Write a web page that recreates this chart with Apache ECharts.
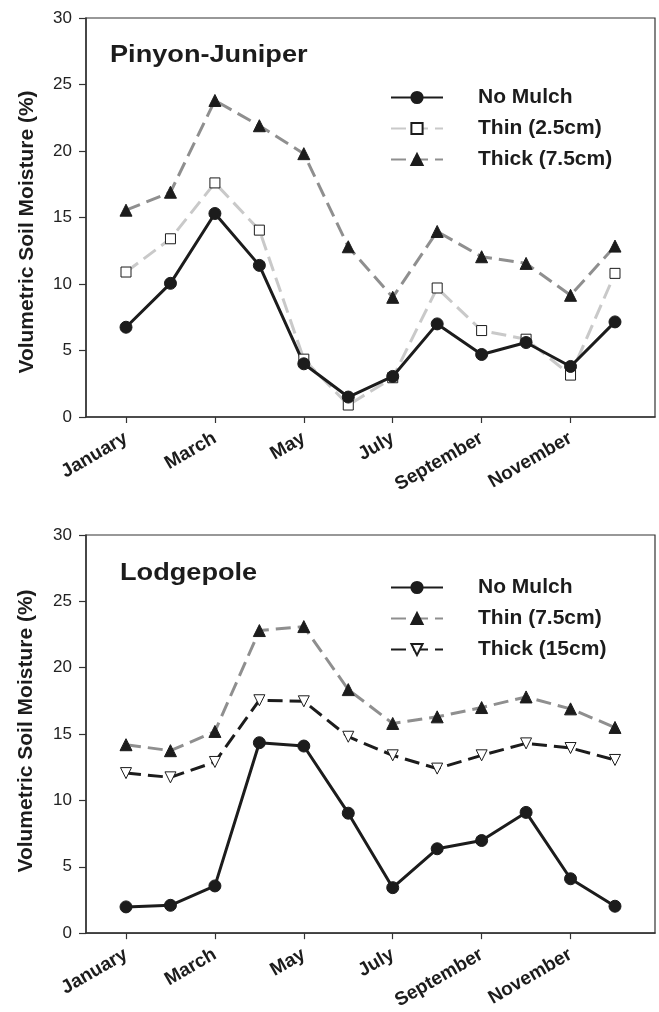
<!DOCTYPE html>
<html>
<head>
<meta charset="utf-8">
<script src="https://cdn.jsdelivr.net/npm/echarts@6/dist/echarts.min.js"></script>
<style>
html,body{margin:0;padding:0;background:#fff;}
#c{width:659px;height:1012px;}
</style>
</head>
<body>
<div id="c"></div>
<script>
// Month positions (0 = January)
const months = ['January','February','March','April','May','June','July','August','September','October','November','December'];
const tickMonths = [0, 2, 4, 6, 8, 10];
const yTicks = [0, 5, 10, 15, 20, 25, 30];
const panelTitles = ['Pinyon-Juniper', 'Lodgepole'];
const yName = 'Volumetric Soil Moisture (%)';

// Pinyon-Juniper
const pjNoMulch = [6.75, 10.05, 15.3, 11.4, 4.0, 1.5, 3.05, 7.0, 4.7, 5.6, 3.8, 7.15];
const pjThin    = [10.9, 13.4, 17.6, 14.05, 4.35, 0.9, 2.95, 9.7, 6.5, 5.85, 3.15, 10.8];
const pjThick   = [15.55, 16.9, 23.8, 21.9, 19.8, 12.8, 9.0, 13.95, 12.05, 11.55, 9.15, 12.85];

// Lodgepole
const lpNoMulch = [1.98, 2.1, 3.56, 14.35, 14.1, 9.04, 3.43, 6.36, 6.98, 9.1, 4.1, 2.03];
const lpThin    = [14.2, 13.75, 15.2, 22.8, 23.1, 18.35, 15.8, 16.3, 17.0, 17.8, 16.9, 15.5];
const lpThick   = [12.06, 11.74, 12.9, 17.55, 17.47, 14.8, 13.4, 12.4, 13.4, 14.3, 13.95, 13.05];

const BLACK = '#1c1c1c', LIGHT = '#c9c9c9', MID = '#8f8f8f';
const FONT = 'Liberation Sans, Arial, sans-serif';

function pairs(arr){ return arr.map((v,i)=>[i,v]); }

function xAxis(gi){
  return {
    type:'value', gridIndex:gi, min:-0.9, max:11.9,
    axisLine:{show:true, onZero:false, lineStyle:{color:'#333', width:1.5}},
    axisTick:{show:true, customValues:tickMonths, length:6, inside:false, lineStyle:{color:'#333', width:1.2}},
    axisLabel:{show:true, customValues:tickMonths, rotate:30, margin:20,
      formatter:v=>months[Math.round(v)], fontFamily:FONT, fontWeight:'bold', fontSize:19, color:'#1c1c1c'},
    splitLine:{show:false}
  };
}
function yAxis(gi){
  return {
    type:'value', gridIndex:gi, min:0, max:30, interval:5,
    axisLine:{show:true, onZero:false, lineStyle:{color:'#333', width:1.5}},
    axisTick:{show:true, length:7, lineStyle:{color:'#333', width:1.2}},
    axisLabel:{margin:14, fontFamily:FONT, fontSize:17, color:'#222'},
    splitLine:{show:false}
  };
}
function line(name, data, gi, color, dash, symbol, size, fill, rot){
  return {
    name, type:'line', xAxisIndex:gi, yAxisIndex:gi, data:pairs(data),
    symbol, symbolSize:size, showSymbol:true, symbolRotate:rot||0,
    lineStyle:{color, width:3, type:dash},
    itemStyle:{color:fill, borderColor:BLACK, borderWidth:1},
    z: 3, animation:false
  };
}
function legend(top, names){
  return {orient:'vertical', left:385, top, itemWidth:52, itemHeight:14, itemGap:10,
    data:names,
    textStyle:{fontFamily:FONT, fontWeight:'bold', fontSize:21, color:'#1c1c1c', padding:[0,0,0,30]}};
}
function titleText(text, x, y){
  return {type:'text', x, y, scaleX:1.18, z:10,
    style:{text, font:'bold 23px ' + FONT, fill:'#1c1c1c', align:'left', verticalAlign:'middle'}};
}
function yNameText(x, y){
  return {type:'text', x, y, rotation:Math.PI/2, z:10,
    style:{text:yName, font:'bold 21px ' + FONT, fill:'#1c1c1c', align:'center', verticalAlign:'middle'}};
}

const chart = echarts.init(document.getElementById('c'), null, {renderer:'canvas'});
chart.setOption({
  animation:false,
  backgroundColor:'#fff',
  graphic:[
    titleText(panelTitles[0], 110, 56), titleText(panelTitles[1], 120, 574),
    yNameText(27, 232), yNameText(26, 731)
  ],
  grid:[
    {left:86, top:18, width:569, height:399, show:true, borderColor:'#333', borderWidth:1.2, backgroundColor:'transparent'},
    {left:86, top:535, width:569, height:400, show:true, borderColor:'#333', borderWidth:1.2, backgroundColor:'transparent'}
  ],
  legend:[
    legend(82, ['No Mulch','Thin (2.5cm)','Thick (7.5cm)']),
    legend(572, ['No Mulch','Thin (7.5cm)','Thick (15cm)'])
  ],
  xAxis:[xAxis(0), xAxis(1)],
  yAxis:[yAxis(0), yAxis(1)],
  series:[
    line('Thick (7.5cm)', pjThick, 0, MID, [15,7], 'triangle', 12, BLACK),
    line('Thin (2.5cm)', pjThin, 0, LIGHT, [15,7], 'rect', 10, '#fff'),
    line('No Mulch', pjNoMulch, 0, BLACK, 'solid', 'circle', 12, BLACK),
    line('Thin (7.5cm)', lpThin, 1, MID, [15,7], 'triangle', 12, BLACK),
    line('Thick (15cm)', lpThick, 1, BLACK, [15,7], 'triangle', 11, '#fff', 180),
    line('No Mulch', lpNoMulch, 1, BLACK, 'solid', 'circle', 12, BLACK)
  ]
});
</script>
</body>
</html>
